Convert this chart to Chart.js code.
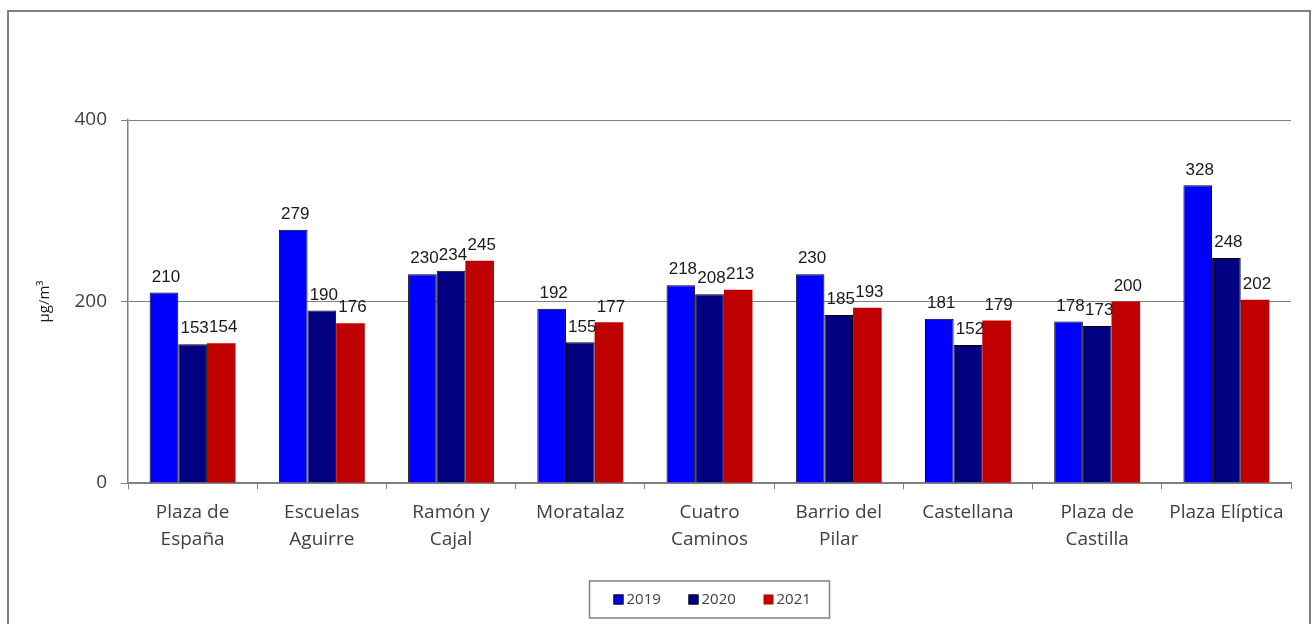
<!DOCTYPE html>
<html>
<head>
<meta charset="utf-8">
<script src="https://cdn.jsdelivr.net/npm/chart.js@4.4.1/dist/chart.umd.min.js"></script>
<style>
  html, body { margin: 0; padding: 0; background: #fff; }
  #wrap { width: 1314px; height: 624px; }
</style>
</head>
<body>
<div id="wrap"><canvas id="grafico" width="1314" height="624"></canvas></div>
<script>
// Estaciones y valores (µg/m3)
const estaciones = [
    ['Plaza de', 'España'],
    ['Escuelas', 'Aguirre'],
    ['Ramón y', 'Cajal'],
    'Moratalaz',
    ['Cuatro', 'Caminos'],
    ['Barrio del', 'Pilar'],
    'Castellana',
    ['Plaza de', 'Castilla'],
    'Plaza Elíptica'
];
const anios = ['2019', '2020', '2021'];
const valores2019 = [210, 279, 230, 192, 218, 230, 181, 178, 328];
const valores2020 = [153, 190, 234, 155, 208, 185, 152, 173, 248];
const valores2021 = [154, 176, 245, 177, 213, 193, 179, 200, 202];
const ticksY = [0, 200, 400];

const gris = '#808080';
const texto = '#404040';

// marco exterior
const marco = {
    id: 'marco',
    beforeDraw(chart) {
        const c = chart.ctx;
        c.save();
        c.strokeStyle = gris;
        c.lineWidth = 2;
        c.strokeRect(8, 11, 1302, 700);
        c.restore();
    }
};

// etiquetas de valor sobre cada barra
const etiquetas = {
    id: 'etiquetas',
    afterDatasetsDraw(chart) {
        const c = chart.ctx;
        c.save();
        c.font = '17px "Liberation Sans", Arial, sans-serif';
        c.fillStyle = '#1a1a1a';
        c.textAlign = 'center';
        c.textBaseline = 'bottom';
        chart.data.datasets.forEach((ds, i) => {
            chart.getDatasetMeta(i).data.forEach((bar, j) => {
                c.fillText(ds.data[j], bar.x + 2, bar.y - 7);
            });
        });
        c.restore();
    }
};

// leyenda con recuadro abajo
const leyenda = {
    id: 'leyenda',
    afterDraw(chart) {
        const c = chart.ctx;
        const area = chart.chartArea;
        const cx = (area.left + area.right) / 2;
        const x0 = cx - 120, y0 = 581, w = 240, h = 37;
        c.save();
        c.strokeStyle = gris;
        c.lineWidth = 1.5;
        c.strokeRect(x0, y0, w, h);
        c.font = '15px "Open Sans", sans-serif';
        c.textBaseline = 'middle';
        chart.data.datasets.forEach((ds, i) => {
            const x = x0 + 24 + i * 75;
            const y = y0 + h / 2;
            c.fillStyle = ds.backgroundColor;
            c.fillRect(x, y - 5, 10, 10);
            if (ds.borderWidth) {
                c.strokeStyle = '#000';
                c.lineWidth = 1;
                c.strokeRect(x + 0.5, y - 4.5, 9, 9);
            }
            c.fillStyle = texto;
            c.fillText(ds.label, x + 13, y);
        });
        c.restore();
    }
};

const ctx = document.getElementById('grafico').getContext('2d');
new Chart(ctx, {
    type: 'bar',
    data: {
        labels: estaciones,
        datasets: [
            { label: anios[0], data: valores2019, backgroundColor: '#0000ff', borderColor: '#000000', borderWidth: 1 },
            { label: anios[1], data: valores2020, backgroundColor: '#000080', borderColor: '#000000', borderWidth: 1 },
            { label: anios[2], data: valores2021, backgroundColor: '#c00000', borderWidth: 0 }
        ]
    },
    options: {
        responsive: false,
        animation: false,
        layout: { padding: { top: 120, right: 23, bottom: 61, left: 0 } },
        datasets: { bar: { categoryPercentage: 0.665, barPercentage: 1 } },
        plugins: {
            legend: { display: false },
            tooltip: { enabled: false }
        },
        scales: {
            x: {
                grid: { offset: true, drawOnChartArea: false, color: gris, tickLength: 6, lineWidth: 1 },
                border: { color: gris, width: 1.5 },
                ticks: {
                    color: texto,
                    font: { family: '"Open Sans", sans-serif', size: 19, lineHeight: 1.42 },
                    padding: 10,
                    maxRotation: 0,
                    autoSkip: false
                },
                afterFit(scale) { scale.height = 80; }
            },
            y: {
                min: 0,
                max: 400,
                afterBuildTicks(scale) { scale.ticks = ticksY.map(v => ({ value: v })); },
                grid: { color: gris, tickLength: 7, lineWidth: 1 },
                border: { color: gris, width: 1.5 },
                ticks: {
                    color: texto,
                    font: { family: '"Open Sans", sans-serif', size: 19 },
                    padding: 14
                },
                title: {
                    display: true,
                    text: 'µg/m³',
                    color: '#1a1a1a',
                    font: { family: '"Open Sans", sans-serif', size: 15 },
                    padding: { top: 36, bottom: 0 }
                },
                afterFit(scale) { scale.width = 128; }
            }
        }
    },
    plugins: [marco, etiquetas, leyenda]
});
</script>
</body>
</html>
